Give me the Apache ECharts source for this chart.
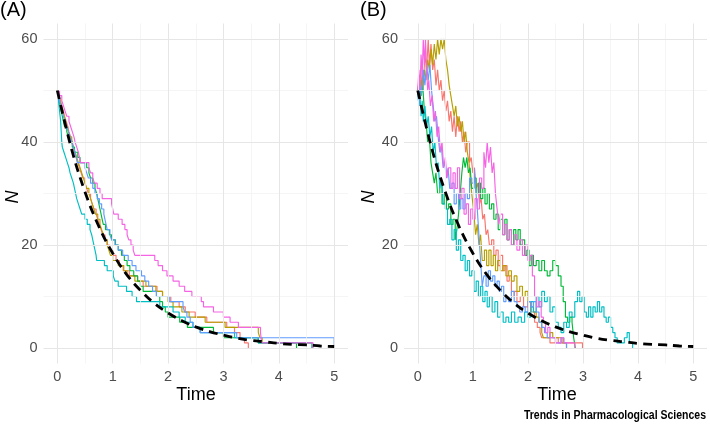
<!DOCTYPE html>
<html>
<head>
<meta charset="utf-8">
<script src="https://cdn.jsdelivr.net/npm/echarts@6/dist/echarts.min.js"></script>
<style>html,body{margin:0;padding:0;background:#fff}#c{width:710px;height:424px}</style>
</head>
<body>
<div id="c"></div>
<script>
// ---- tick labels / grid positions ----
const xTicks = [0, 1, 2, 3, 4, 5];
const xMinor = [0.5, 1.5, 2.5, 3.5, 4.5];
const yTicks = [0, 20, 40, 60];
const yMinor = [10, 30, 50];
const panelLabels = ['(A)', '(B)'];
const xTitle = 'Time';
const yTitle = 'N';
const credit = 'Trends in Pharmacological Sciences';
const seriesColors = ['#F8766D', '#B79F00', '#00BA38', '#00BFC4', '#619CFF', '#F564E3'];

// ---- expected (deterministic) curve ----
const dashT = [0,0.25,0.5,0.75,1,1.25,1.5,1.75,2,2.25,2.5,2.75,3,3.25,3.5,3.75,4,4.25,4.5,4.75,5];
const dashN = [50,38.9,30.3,23.6,18.4,14.3,11.2,8.7,6.8,5.3,4.1,3.2,2.5,1.9,1.5,1.2,0.9,0.7,0.6,0.4,0.3];

// ---- Panel A: pure death trajectories [time, N] ----
const aRed = [[0,50],[0.03,49],[0.06,48],[0.08,47],[0.11,46],[0.13,45],[0.16,44],[0.19,43],[0.21,42],[0.24,41],[0.27,40],[0.29,39],[0.31,38],[0.34,37],[0.37,36],[0.4,35],[0.43,34],[0.46,33],[0.5,32],[0.53,31],[0.56,30],[0.6,29],[0.63,28],[0.66,27],[0.7,26],[0.73,25],[0.76,24],[0.79,23],[0.82,22],[0.86,21],[0.9,20],[0.94,19],[1.0,18],[1.06,17],[1.12,16],[1.19,15],[1.3,14],[1.45,13],[1.55,12],[1.8,11],[1.9,10],[2.05,9],[2.2,8],[2.31,7],[2.49,6],[2.7,5],[3.06,4],[3.2,3],[3.3,2],[3.38,1],[3.45,0]];
const aOlive = [[0,50],[0.02,49],[0.05,48],[0.07,47],[0.1,46],[0.12,45],[0.15,44],[0.17,43],[0.2,42],[0.22,41],[0.26,40],[0.29,39],[0.32,38],[0.35,37],[0.38,36],[0.41,35],[0.44,34],[0.47,33],[0.5,32],[0.53,31],[0.57,30],[0.6,29],[0.63,28],[0.66,27],[0.69,26],[0.73,25],[0.77,24],[0.8,23],[0.83,22],[0.86,21],[0.9,20],[0.93,19],[0.96,18],[1.0,17],[1.1,16],[1.2,15],[1.26,14],[1.4,13],[1.6,12],[1.78,11],[1.9,10],[2.0,9],[2.09,8],[2.25,7],[2.38,6],[2.67,5],[3.03,4],[3.63,3],[3.66,2],[3.7,1],[4.6,0]];
const aGreen = [[0,50],[0.02,49],[0.03,48],[0.05,47],[0.07,46],[0.09,45],[0.11,44],[0.13,43],[0.17,42],[0.2,41],[0.23,40],[0.27,39],[0.31,38],[0.37,37],[0.41,36],[0.53,35],[0.57,34],[0.6,33],[0.64,32],[0.68,31],[0.71,30],[0.73,29],[0.75,28],[0.77,27],[0.79,26],[0.81,25],[0.83,24],[0.87,23],[0.94,22],[0.98,21],[1.05,20],[1.1,19],[1.16,18],[1.21,17],[1.26,16],[1.31,15],[1.38,14],[1.45,13],[1.5,12],[1.55,11],[1.79,10],[1.85,9],[1.9,8],[1.95,7],[2.0,6],[2.21,5],[2.35,4],[2.82,3],[3.0,2],[3.63,1],[4.32,0]];
const aCyan = [[0,50],[0.01,49],[0.02,48],[0.03,47],[0.04,46],[0.05,45],[0.06,44],[0.07,42],[0.08,40],[0.09,39],[0.12,38],[0.15,37],[0.18,36],[0.21,35],[0.23,34],[0.26,33],[0.29,32],[0.31,31],[0.33,30],[0.35,29],[0.38,28],[0.41,27],[0.44,26],[0.5,25],[0.54,24],[0.59,23],[0.62,22],[0.64,21],[0.66,20],[0.68,19],[0.7,18],[0.71,17],[0.85,16],[0.9,15],[1.01,14],[1.04,13],[1.1,12],[1.25,11],[1.35,10],[1.43,9],[1.85,8],[2.09,7],[2.2,6],[2.31,5],[2.45,4],[2.58,3],[3.2,2],[3.63,1],[4.6,0]];
const aBlue = [[0,50],[0.02,49],[0.04,48],[0.06,47],[0.08,46],[0.11,45],[0.14,44],[0.17,43],[0.2,42],[0.23,41],[0.26,40],[0.29,39],[0.32,38],[0.34,37],[0.36,36],[0.5,35],[0.53,34],[0.56,33],[0.6,32],[0.64,31],[0.68,30],[0.72,29],[0.76,28],[0.8,27],[0.84,26],[0.86,25],[0.88,24],[0.9,23],[0.95,22],[0.98,21],[1.04,20],[1.1,19],[1.18,18],[1.28,17],[1.35,16],[1.42,15],[1.52,14],[1.58,13],[1.65,12],[1.72,11],[1.79,10],[2.03,9],[2.27,8],[2.3,7],[2.34,6],[2.4,5],[2.45,4],[2.58,3],[3.24,2],[5.0,0]];
const aMagenta = [[0,50],[0.04,49],[0.08,48],[0.11,47],[0.14,46],[0.17,45],[0.21,44],[0.24,43],[0.27,42],[0.3,41],[0.32,40],[0.35,39],[0.38,38],[0.4,37],[0.42,36],[0.57,35],[0.6,34],[0.64,33],[0.67,32],[0.72,31],[0.77,30],[0.81,29],[0.98,28],[1.0,27],[1.02,26],[1.1,25],[1.17,24],[1.22,23],[1.26,22],[1.29,21],[1.33,20],[1.37,19],[1.4,18],[1.76,17],[1.82,16],[1.9,15],[1.98,14],[2.09,13],[2.2,12],[2.3,11],[2.43,10],[2.6,9],[2.64,8],[2.82,7],[3.0,6],[3.12,5],[3.27,4],[3.67,3],[3.68,2],[3.69,1],[4.62,0]];

// ---- Panel B: birth-death trajectories [time, N] ----
const bRed = [[0,50],[0.03,53],[0.05,49],[0.08,54],[0.1,51],[0.13,57],[0.16,54],[0.19,60],[0.21,55],[0.24,59],[0.27,54],[0.3,56],[0.33,51],[0.36,54],[0.39,50],[0.42,52],[0.45,48],[0.48,50],[0.51,46],[0.54,48],[0.57,44],[0.6,46],[0.63,42],[0.66,45],[0.69,41],[0.72,45],[0.75,42],[0.78,44],[0.81,40],[0.84,42],[0.87,38],[0.9,40],[0.94,36],[0.97,37],[1.0,34],[1.03,35],[1.06,31],[1.09,32],[1.12,28],[1.15,29],[1.18,25],[1.21,26],[1.24,22],[1.27,23],[1.3,20],[1.34,21],[1.38,18],[1.42,19],[1.46,16],[1.5,18],[1.54,15],[1.58,16],[1.62,13],[1.66,14],[1.7,10],[1.75,11],[1.8,9],[1.86,10],[1.92,8],[2.0,9],[2.06,7],[2.12,5],[2.17,4],[2.22,3],[2.25,2],[2.4,1],[2.5,2],[2.55,1],[2.99,0]];
const bOlive = [[0,50],[0.03,48],[0.06,52],[0.09,50],[0.12,54],[0.15,52],[0.18,56],[0.21,54],[0.24,58],[0.27,55],[0.3,59],[0.33,56],[0.36,60],[0.39,57],[0.42,60],[0.45,58],[0.48,60],[0.51,56],[0.54,54],[0.57,51],[0.6,49],[0.63,47],[0.66,45],[0.69,47],[0.72,43],[0.75,45],[0.78,42],[0.81,44],[0.84,40],[0.87,42],[0.9,38],[0.93,36],[0.96,32],[0.99,29],[1.02,26],[1.05,22],[1.08,24],[1.11,20],[1.14,22],[1.17,17],[1.21,19],[1.25,16],[1.29,19],[1.33,16],[1.37,18],[1.41,15],[1.45,17],[1.5,15],[1.55,16],[1.6,14],[1.65,15],[1.7,13],[1.75,14],[1.8,11],[1.85,12],[1.9,10],[1.95,11],[2.0,9],[2.05,8],[2.1,7],[2.15,6],[2.2,5],[2.25,3],[2.28,2],[2.4,3],[2.45,2],[2.62,1],[2.7,0]];
const bGreen = [[0,50],[0.03,52],[0.06,49],[0.09,51],[0.12,46],[0.15,44],[0.18,40],[0.21,41],[0.24,36],[0.27,34],[0.3,32],[0.33,34],[0.36,30],[0.4,32],[0.44,28],[0.48,30],[0.52,27],[0.56,28],[0.6,24],[0.64,25],[0.68,21],[0.71,23],[0.74,26],[0.77,30],[0.8,34],[0.83,37],[0.86,35],[0.89,37],[0.92,34],[0.95,35],[0.98,31],[1.02,33],[1.06,30],[1.1,32],[1.14,29],[1.18,31],[1.22,28],[1.26,30],[1.3,27],[1.34,28],[1.38,25],[1.42,26],[1.46,23],[1.5,25],[1.54,22],[1.58,25],[1.62,21],[1.66,23],[1.7,20],[1.74,23],[1.78,21],[1.82,23],[1.86,20],[1.9,21],[1.94,18],[1.98,19],[2.02,16],[2.06,18],[2.1,16],[2.15,17],[2.2,15],[2.25,17],[2.3,15],[2.35,14],[2.4,15],[2.45,17],[2.5,16],[2.55,14],[2.6,12],[2.64,9],[2.68,6],[2.72,5],[2.76,6],[2.8,5],[2.83,2],[2.86,0]];
const bCyan = [[0,50],[0.02,47],[0.04,49],[0.06,45],[0.08,48],[0.1,44],[0.13,47],[0.16,43],[0.19,45],[0.22,41],[0.25,43],[0.28,38],[0.31,40],[0.34,35],[0.37,36],[0.4,31],[0.43,33],[0.46,28],[0.5,27],[0.54,24],[0.58,25],[0.62,21],[0.66,23],[0.7,19],[0.74,21],[0.78,17],[0.82,18],[0.86,15],[0.9,17],[0.94,14],[0.98,15],[1.02,11],[1.06,13],[1.1,10],[1.14,12],[1.18,9],[1.22,11],[1.26,8],[1.3,10],[1.35,7],[1.4,9],[1.45,6],[1.5,7],[1.55,5],[1.6,6],[1.65,5],[1.7,7],[1.76,5],[1.82,6],[1.88,5],[1.94,7],[2.0,6],[2.05,9],[2.1,7],[2.15,10],[2.2,8],[2.25,11],[2.3,9],[2.35,10],[2.4,7],[2.45,8],[2.5,5],[2.55,4],[2.6,3],[2.65,5],[2.7,4],[2.75,7],[2.8,6],[2.85,9],[2.9,11],[2.94,9],[2.98,10],[3.02,7],[3.06,6],[3.1,8],[3.14,6],[3.18,8],[3.22,7],[3.26,9],[3.3,7],[3.34,8],[3.38,6],[3.42,5],[3.46,6],[3.5,4],[3.54,3],[3.58,2],[3.62,1],[3.75,2],[3.8,3],[3.84,1],[3.9,0]];
const bBlue = [[0,50],[0.02,47],[0.04,52],[0.07,49],[0.1,54],[0.13,51],[0.16,55],[0.19,52],[0.22,55],[0.25,50],[0.28,47],[0.31,44],[0.34,45],[0.37,41],[0.4,38],[0.43,39],[0.46,35],[0.49,36],[0.52,33],[0.55,35],[0.58,31],[0.62,32],[0.66,28],[0.7,30],[0.74,27],[0.78,29],[0.82,27],[0.86,30],[0.9,29],[0.94,33],[0.98,32],[1.02,35],[1.05,31],[1.08,27],[1.11,22],[1.14,17],[1.17,12],[1.2,14],[1.24,12],[1.28,15],[1.32,13],[1.36,14],[1.4,12],[1.44,13],[1.48,11],[1.52,12],[1.56,9],[1.6,10],[1.65,9],[1.7,11],[1.75,9],[1.8,8],[1.85,7],[1.9,8],[1.95,7],[2.0,9],[2.05,8],[2.1,9],[2.15,7],[2.2,5],[2.25,4],[2.3,3],[2.35,2],[2.5,1],[2.6,2],[2.65,1],[2.7,0]];
const bMagenta = [[0,50],[0.02,54],[0.04,50],[0.06,57],[0.08,53],[0.1,60],[0.12,55],[0.14,60],[0.16,54],[0.18,50],[0.2,52],[0.23,47],[0.26,49],[0.29,44],[0.32,46],[0.35,41],[0.38,43],[0.41,38],[0.44,40],[0.47,35],[0.5,37],[0.53,33],[0.56,35],[0.6,31],[0.64,34],[0.68,31],[0.72,35],[0.76,29],[0.8,31],[0.84,26],[0.88,28],[0.92,24],[0.96,27],[1.0,25],[1.04,29],[1.08,27],[1.12,33],[1.16,31],[1.2,38],[1.23,35],[1.26,40],[1.29,36],[1.32,39],[1.35,34],[1.38,36],[1.41,30],[1.44,27],[1.47,24],[1.5,26],[1.54,22],[1.58,24],[1.62,21],[1.66,23],[1.7,20],[1.75,22],[1.8,19],[1.85,21],[1.9,18],[1.95,20],[2.0,17],[2.04,18],[2.08,14],[2.12,10],[2.16,8],[2.2,9],[2.24,6],[2.28,5],[2.32,3],[2.36,4],[2.4,2],[2.5,1],[2.6,2],[2.65,1],[2.85,0]];

const panelA = [aRed, aOlive, aGreen, aCyan, aBlue, aMagenta];
const panelB = [bRed, bOlive, bGreen, bCyan, bBlue, bMagenta];

// ---- layout ----
const FONT = "'Liberation Sans', Arial, Helvetica, sans-serif";
const grids = [
  {left: 43.5, top: 23.5, width: 304.5, height: 340},
  {left: 404, top: 23.5, width: 305.5, height: 340}
];
const isNear = (v, arr) => arr.some(a => Math.abs(a - v) < 1e-6);

function xAxisCfg(i) {
  return {type: 'value', gridIndex: i, min: -0.25, max: 5.25, interval: 0.25,
    axisLine: {show: false}, axisTick: {show: false}, splitLine: {show: false},
    axisLabel: {margin: 6, color: '#4d4d4d', fontSize: 14.5, fontFamily: FONT,
      formatter: v => isNear(v, xTicks) ? String(Math.round(v)) : ''}};
}
function yAxisCfg(i) {
  return {type: 'value', gridIndex: i, min: -3, max: 63, interval: 1,
    axisLine: {show: false}, axisTick: {show: false}, splitLine: {show: false},
    axisLabel: {margin: 6, color: '#4d4d4d', fontSize: 14.5, fontFamily: FONT,
      formatter: v => isNear(v, yTicks) ? String(Math.round(v)) : ''}};
}
function gridLines(i) {
  const major = {color: '#e6e6e6', width: 1, type: 'solid'};
  const minor = {color: '#f2f2f2', width: 0.8, type: 'solid'};
  return {type: 'line', xAxisIndex: i, yAxisIndex: i, data: [], z: 0, silent: true,
    markLine: {silent: true, symbol: ['none', 'none'], animation: false, label: {show: false},
      emphasis: {disabled: true},
      data: [
        ...xMinor.map(v => ({xAxis: v, lineStyle: minor})),
        ...yMinor.map(v => ({yAxis: v, lineStyle: minor})),
        ...xTicks.map(v => ({xAxis: v, lineStyle: major})),
        ...yTicks.map(v => ({yAxis: v, lineStyle: major}))
      ]}};
}
function stepSeries(i, data, color) {
  return {type: 'line', xAxisIndex: i, yAxisIndex: i, data: data, step: 'end',
    symbol: 'none', z: 2, silent: true,
    lineStyle: {color: color, width: 1.15}};
}
function dashSeries(i) {
  return {type: 'line', xAxisIndex: i, yAxisIndex: i,
    data: dashT.map((t, k) => [t, dashN[k]]), smooth: 0.4, symbol: 'none', z: 5, silent: true,
    lineStyle: {color: '#000', width: 2.8, type: [9, 6]}};
}

const series = [gridLines(0), gridLines(1)];
panelA.forEach((d, k) => series.push(stepSeries(0, d, seriesColors[k])));
panelB.forEach((d, k) => series.push(stepSeries(1, d, seriesColors[k])));
series.push(dashSeries(0), dashSeries(1));

const txt = (text, x, y, size, opts = {}) => ({type: 'text', x: x, y: y, rotation: opts.rot || 0, z: 10,
  scaleX: opts.sx || 1,
  style: {text: text, fill: opts.fill || '#000', font: (opts.style || '') + ' ' + (opts.weight || 'normal') + ' ' + size + 'px ' + FONT,
    textAlign: opts.align || 'center', textVerticalAlign: 'middle'}});

const chart = echarts.init(document.getElementById('c'), null, {renderer: 'canvas'});
chart.setOption({
  animation: false,
  backgroundColor: '#ffffff',
  grid: grids,
  xAxis: [xAxisCfg(0), xAxisCfg(1)],
  yAxis: [yAxisCfg(0), yAxisCfg(1)],
  series: series,
  graphic: [
    txt(panelLabels[0], 0, 10, 20, {align: 'left'}),
    txt(panelLabels[1], 360, 10, 20, {align: 'left'}),
    txt(xTitle, 196, 395, 18),
    txt(xTitle, 557, 395, 18),
    txt(yTitle, 13, 197, 18, {rot: Math.PI / 2, style: 'italic'}),
    txt(yTitle, 369, 197, 18, {rot: Math.PI / 2, style: 'italic'}),
    txt(credit, 706, 416, 12.5, {align: 'right', weight: 'bold', sx: 0.84})
  ]
});
</script>
</body>
</html>
